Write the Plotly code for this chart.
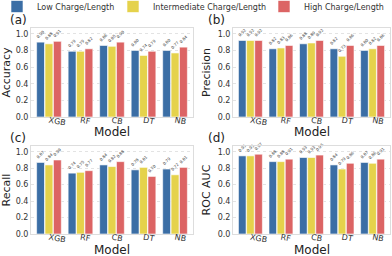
import plotly.graph_objects as go

models = ["XGB", "RF", "CB", "DT", "NB"]
series_names = ["Low Charge/Length", "Intermediate Charge/Length", "High Charge/Length"]
colors = ["#3b6ea5", "#e5d24b", "#dc6464"]

accuracy_low = [0.90, 0.79, 0.86, 0.80, 0.80]
accuracy_mid = [0.88, 0.79, 0.85, 0.74, 0.77]
accuracy_high = [0.91, 0.82, 0.90, 0.79, 0.84]

precision_low = [0.92, 0.82, 0.88, 0.82, 0.80]
precision_mid = [0.92, 0.83, 0.89, 0.73, 0.82]
precision_high = [0.92, 0.86, 0.92, 0.86, 0.86]

recall_low = [0.87, 0.74, 0.84, 0.78, 0.79]
recall_mid = [0.84, 0.75, 0.82, 0.81, 0.72]
recall_high = [0.90, 0.77, 0.88, 0.70, 0.81]

rocauc_low = [0.95, 0.88, 0.93, 0.84, 0.87]
rocauc_mid = [0.95, 0.88, 0.93, 0.79, 0.86]
rocauc_high = [0.97, 0.91, 0.96, 0.86, 0.91]

panels = [
    ("Accuracy", [accuracy_low, accuracy_mid, accuracy_high], "(a)"),
    ("Precision", [precision_low, precision_mid, precision_high], "(b)"),
    ("Recall", [recall_low, recall_mid, recall_high], "(c)"),
    ("ROC AUC", [rocauc_low, rocauc_mid, rocauc_high], "(d)"),
]

W, H = 392, 256
xdoms = [(31 / W, 193 / W), (233 / W, 390 / W)]
ydoms = [(1 - 117 / H, 1 - 28 / H), (1 - 234 / H, 1 - 146 / H)]
model_title_y_px = [132, 250]
legend_x_px = [-3, 113, 264]
legend_keys = ["legend", "legend2", "legend3"]

fig = go.Figure()
font_family = "DejaVu Sans"
annotations = []

for i, (metric, vals, tag) in enumerate(panels):
    r, c = divmod(i, 2)
    ax = "" if i == 0 else str(i + 1)
    for j in range(3):
        fig.add_trace(go.Bar(
            x=models, y=vals[j], name=series_names[j],
            marker=dict(color=colors[j], line=dict(color="white", width=0.6)),
            text=[f"{v:.2f}" for v in vals[j]], textposition="outside",
            textangle=-45, textfont=dict(size=4, color="#444", family=font_family),
            constraintext="none", cliponaxis=False,
            showlegend=(i == 0), legendgroup=series_names[j], legend=legend_keys[j],
            xaxis="x" + ax, yaxis="y" + ax, offsetgroup=str(j),
        ))
    fig.layout["xaxis" + ax] = dict(
        domain=xdoms[c], anchor="y" + ax, range=[-0.57, 4.57], automargin=False,
        tickfont=dict(size=8, color="#333", family=font_family), tickangle=10,
        ticklabelstandoff=-5,
        showline=True, mirror=True, linecolor="#dddddd", linewidth=1,
        showgrid=False, ticks="", ticklen=0,
    )
    fig.layout["yaxis" + ax] = dict(
        domain=ydoms[r], anchor="x" + ax, range=[0, 1.07], automargin=False,
        tickvals=[0, 0.2, 0.4, 0.6, 0.8, 1.0], ticktext=["0.0", "0.2", "0.4", "0.6", "0.8", "1.0"],
        tickfont=dict(size=8, color="#333", family=font_family),
        showline=True, mirror=True, linecolor="#dddddd", linewidth=1,
        showgrid=True, gridcolor="#e3e3e3", griddash="dot", gridwidth=0.8,
        zeroline=False, ticks="",
        title=dict(text=metric, font=dict(size=11, color="#222", family=font_family), standoff=4),
    )
    annotations.append(dict(
        text=tag, x=(8 if c == 0 else 206) / W, y=1 - (20 if r == 0 else 138) / H,
        xref="paper", yref="paper", xanchor="left", yanchor="middle", showarrow=False,
        font=dict(size=12, color="#222", family=font_family),
    ))
    annotations.append(dict(
        text="Model", x=sum(xdoms[c]) / 2, y=1 - model_title_y_px[r] / H,
        xref="paper", yref="paper", xanchor="center", yanchor="middle", showarrow=False,
        font=dict(size=12, color="#222", family=font_family),
    ))

legend_common = dict(orientation="h", y=1.0 + 8 / H, xanchor="left", yanchor="top",
                     font=dict(size=8, color="#333", family=font_family),
                     bgcolor="rgba(0,0,0,0)", itemwidth=30)

fig.update_layout(
    width=W, height=H, margin=dict(l=0, r=0, t=0, b=0, autoexpand=False),
    paper_bgcolor="white", plot_bgcolor="white",
    barmode="group", bargap=0.2, bargroupgap=0.06,
    annotations=annotations,
    legend=dict(x=legend_x_px[0] / W, **legend_common),
    legend2=dict(x=legend_x_px[1] / W, **legend_common),
    legend3=dict(x=legend_x_px[2] / W, **legend_common),
    font=dict(family=font_family),
)

fig.write_html("out.html", config={"displayModeBar": False},
               post_script="document.body.style.margin='0';document.body.style.overflow='hidden';")
